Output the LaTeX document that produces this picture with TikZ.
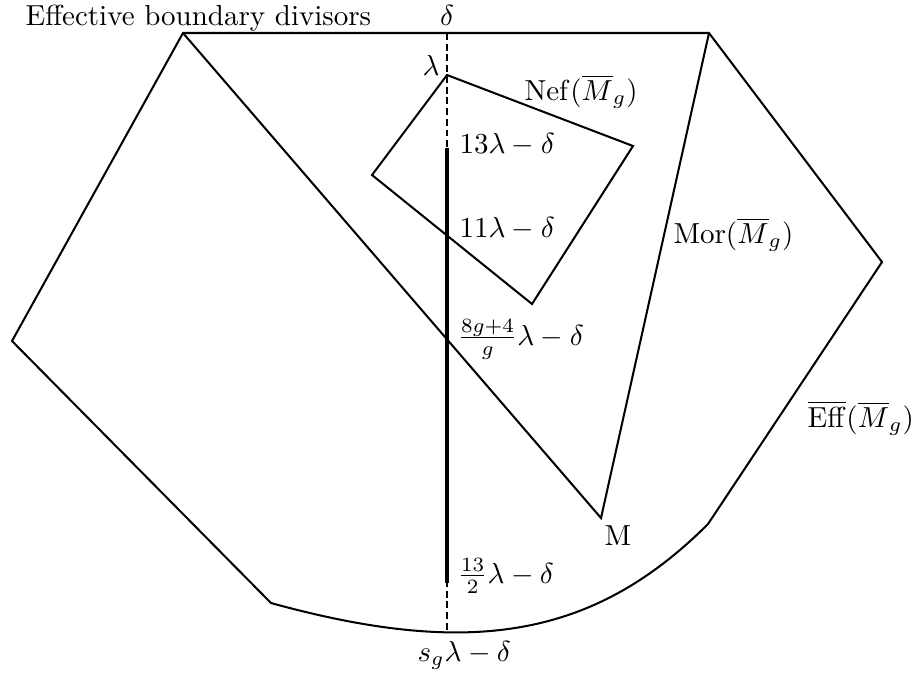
\documentclass[tikz,border=0pt]{standalone}
\usepackage{amsmath}
\begin{document}
\begin{tikzpicture}[x=0.345pt,y=-0.345pt,
  edge/.style={line width=0.7pt, line join=miter},
  axisline/.style={line width=0.7pt, dash pattern=on 2.4pt off 1.3pt},
  segm/.style={line width=1.5pt},
  lbl/.style={inner sep=0pt, anchor=base west},
  lblc/.style={inner sep=0pt, anchor=base}]
\useasboundingbox (0,0) rectangle (914,675);
% outer cone
\coordinate (TL) at (183,33);
\coordinate (TR) at (709,33);
\coordinate (R) at (882,262);
\coordinate (C) at (708,524);
\coordinate (LL) at (271,603);
\coordinate (L) at (12,341);
\coordinate (Mv) at (601,518);
% nef polygon
\coordinate (lam) at (447,75);
\coordinate (nr) at (633,146);
\coordinate (nb) at (532,304);
\coordinate (nl) at (372,175);
% axis
\coordinate (dtop) at (447,33);
\coordinate (dbot) at (447,633);
\coordinate (s13) at (447,148);
\coordinate (s132) at (447,583);

\draw[edge] (C) -- (R) -- (TR) -- (TL) -- (L) -- (LL)
  .. controls (467,657) and (592,640) .. (C);
\draw[edge] (TL) -- (Mv) -- (TR);
\draw[edge] (lam) -- (nr) -- (nb) -- (nl) -- cycle;
\draw[axisline] (dtop) -- (dbot);
\draw[segm] (s13) -- (s132);

\node[lbl] (title) at (25,25) {Effective boundary divisors};
\node[lblc] (dl) at (447,25) {$\delta$};
\node[lblc] (ll) at (431,75) {$\lambda$};
\node[lbl] (nef) at (524,100) {$\mathrm{Nef}(\overline{M}_g)$};
\node[lbl] (t13) at (459,153) {$13\lambda-\delta$};
\node[lbl] (t11) at (459,237) {$11\lambda-\delta$};
\node[lbl] (t8) at (457,345) {$\frac{8g+4}{g}\lambda-\delta$};
\node[lbl] (mor) at (673,243) {$\mathrm{Mor}(\overline{M}_g)$};
\node[lbl] (eff) at (807,427) {$\overline{\mathrm{Eff}}(\overline{M}_g)$};
\node[lbl] (mm) at (604,545) {M};
\node[lbl] (t132) at (457,583) {$\frac{13}{2}\lambda-\delta$};
\node[lbl] (sg) at (417,661) {$s_g\lambda-\delta$};
\end{tikzpicture}
\end{document}
